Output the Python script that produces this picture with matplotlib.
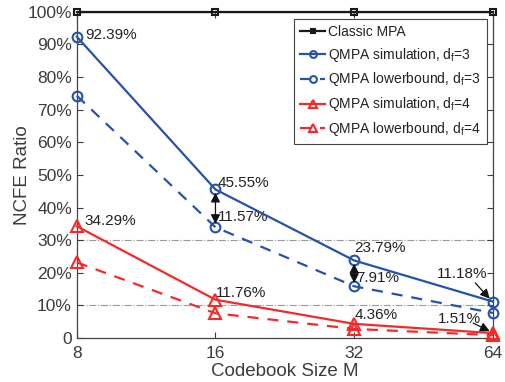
import numpy as np
import matplotlib
matplotlib.use("Agg")
import matplotlib.pyplot as plt
from matplotlib.ticker import FixedLocator, FuncFormatter

plt.rcParams['font.family'] = ['Liberation Sans', 'DejaVu Sans']

# data
M = [8, 16, 32, 64]
classic = [100, 100, 100, 100]
sim_d3 = [92.39, 45.55, 23.79, 11.18]
lb_d3 = [74.3, 33.98, 15.88, 7.7]
sim_d4 = [34.29, 11.76, 4.36, 1.51]
lb_d4 = [23.2, 7.6, 2.8, 0.9]

blue = '#2652a8'
red = '#f42a2a'
txt = '#3c3c3c'

fig = plt.figure(figsize=(5.05, 3.82), dpi=100)
ax = fig.add_axes([0.152, 0.115, 0.824, 0.854])

# grey reference lines
for y in [10, 30]:
    ax.axhline(y, color='#9a9a9a', lw=0.8, ls='-.', zorder=1)

common = dict(lw=1.6, mfc='none', mew=1.5, clip_on=False, zorder=4)
ax.plot(M, classic, '-s', color='#1a1a1a', ms=5, label='Classic MPA', **common)
ax.plot(M, sim_d3, '-o', color=blue, ms=7,
        label='QMPA simulation, d$_\\mathregular{f}$=3', **common)
ax.plot(M, lb_d3, '--o', color=blue, ms=7, dashes=(5, 4),
        label='QMPA lowerbound, d$_\\mathregular{f}$=3', **common)
ax.plot(M, sim_d4, '-^', color=red, ms=8,
        label='QMPA simulation, d$_\\mathregular{f}$=4', **common)
ax.plot(M, lb_d4, '--^', color=red, ms=8, dashes=(5, 4),
        label='QMPA lowerbound, d$_\\mathregular{f}$=4', **common)

ax.set_xscale('log', base=2)
ax.set_xlim(8, 64)
ax.set_ylim(0, 100)
ax.xaxis.set_major_locator(FixedLocator(M))
ax.xaxis.set_minor_locator(FixedLocator([]))
ax.xaxis.set_major_formatter(FuncFormatter(lambda v, p: f'{int(v)}'))
ax.yaxis.set_major_locator(FixedLocator(np.arange(0, 101, 10)))
ax.yaxis.set_major_formatter(FuncFormatter(lambda v, p: '0' if v == 0 else f'{int(v)}%'))
ax.tick_params(direction='in', length=4, colors=txt, labelsize=12.5,
               top=True, right=True, width=0.8)
ax.tick_params(axis='x', pad=6)
for s in ax.spines.values():
    s.set_color('#444444')
    s.set_linewidth(0.9)

ax.set_xlabel('Codebook Size M', fontsize=13.5, color=txt, labelpad=1)
ax.set_ylabel('NCFE Ratio', fontsize=13.5, color=txt)
ax.yaxis.set_label_coords(-0.11, 0.5)

# value labels
fs = 11
tc = '#222222'
ax.text(8.35, 92.9, '92.39%', fontsize=fs, color=tc, va='center')
ax.text(8.3, 35.8, '34.29%', fontsize=fs, color=tc, va='center')
ax.text(16.2, 47.6, '45.55%', fontsize=fs, color=tc, va='center')
ax.text(16.2, 37.0, '11.57%', fontsize=fs, color=tc, va='center')
ax.text(16.0, 13.8, '11.76%', fontsize=fs, color=tc, va='center')
ax.text(32.0, 27.6, '23.79%', fontsize=fs, color=tc, va='center')
ax.text(32.4, 18.4, '7.91%', fontsize=fs, color=tc, va='center')
ax.text(32.0, 7.2, '4.36%', fontsize=fs, color=tc, va='center')
ax.text(55.0, 19.6, '11.18%', fontsize=fs, color=tc, va='center', ha='center')
ax.text(54.1, 5.8, '1.51%', fontsize=fs, color=tc, va='center', ha='center')

# double arrows showing gaps
for i in [1, 2]:
    ax.annotate('', xy=(M[i], lb_d3[i] + 1.0), xytext=(M[i], sim_d3[i] - 1.0),
                arrowprops=dict(arrowstyle='<|-|>', color='#111111', lw=0.9,
                                mutation_scale=14, shrinkA=0, shrinkB=0), zorder=5)

# pointer arrows at M=64
ax.annotate('', xy=(63.0, sim_d3[3] + 0.9), xytext=(58.6, 16.9),
            arrowprops=dict(arrowstyle='-|>', color='#111111', lw=0.9,
                            mutation_scale=14, shrinkA=0, shrinkB=0), zorder=5)
ax.annotate('', xy=(63.0, sim_d4[3] + 0.6), xytext=(58.0, 4.6),
            arrowprops=dict(arrowstyle='-|>', color='#111111', lw=0.9,
                            mutation_scale=14, shrinkA=0, shrinkB=0), zorder=5)

leg = ax.legend(loc='upper right', fontsize=10, handlelength=1.8,
                handletextpad=0.25, borderpad=0.4, labelspacing=0.5,
                borderaxespad=0, markerscale=0.7,
                fancybox=False, edgecolor='#444444', framealpha=1,
                bbox_to_anchor=(0.985, 0.978))
leg.get_frame().set_linewidth(0.8)
for t in leg.get_texts():
    t.set_color(tc)

fig.savefig('out.png', dpi=100)
